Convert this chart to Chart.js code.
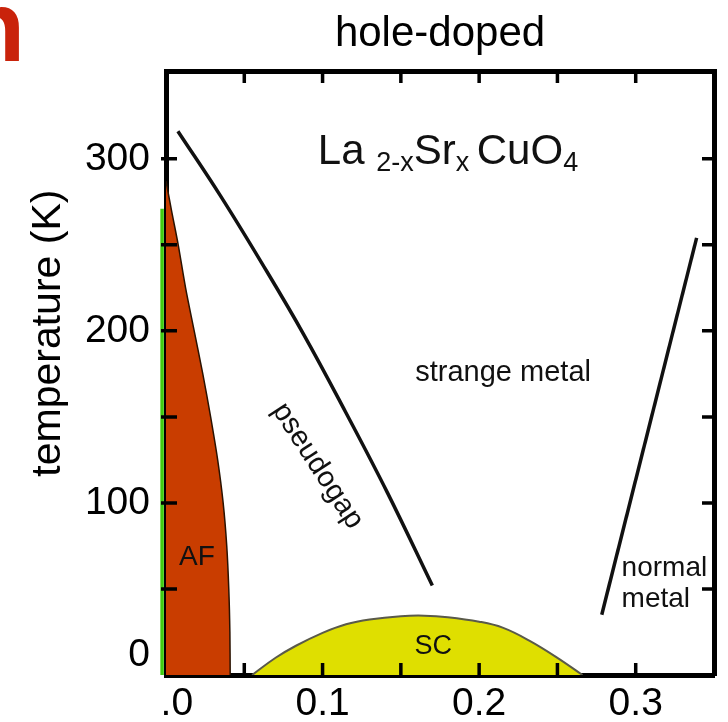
<!DOCTYPE html>
<html>
<head>
<meta charset="utf-8">
<script src="https://cdn.jsdelivr.net/npm/chart.js@4.4.1/dist/chart.umd.min.js"></script>
<style>
  html, body { margin: 0; padding: 0; background: #fff; }
</style>
</head>
<body>
<canvas id="phaseChart" width="728" height="722"></canvas>
<script>
const FONT = "'Liberation Sans', Arial, Helvetica, sans-serif";

// axis ticks
const dopingTicks = [0, 0.05, 0.1, 0.15, 0.2, 0.25, 0.3];
const dopingLabelled = [0, 0.1, 0.2, 0.3];
const dopingLabelText = ['  .0', '0.1', '0.2', '0.3'];
const tempTicks = [0, 50, 100, 150, 200, 250, 300];
const tempLabelled = [0, 100, 200, 300];

// antiferromagnet boundary (x, T)
const afX = [0, 0.0035, 0.0078, 0.0125, 0.018, 0.0235, 0.0285, 0.033, 0.0365, 0.0388, 0.0401, 0.0408, 0.041];
const afT = [287, 270, 250, 225, 200, 175, 150, 125, 100, 75, 50, 25, 0];

// superconducting dome
const scX = [0.055, 0.07, 0.083, 0.10, 0.115, 0.13, 0.15, 0.165, 0.18, 0.20, 0.215, 0.232, 0.25, 0.266];
const scT = [0, 10, 17, 24.5, 29.5, 32.3, 34.2, 34.5, 33.6, 31, 27.5, 20, 10, 0];

// pseudogap crossover line
const pgX = [0.0076, 0.0344, 0.0611, 0.0879, 0.1146, 0.1414, 0.1701];
const pgT = [316, 279, 239.5, 198, 153, 106, 52];

// normal metal crossover
const nmX = [0.2783, 0.3389];
const nmT = [35, 254];

// green marker along the T axis
const greenX = [-0.0025, -0.0025];
const greenT = [0, 271];

const zip = (xs, ys) => xs.map((x, i) => ({ x: x, y: ys[i] }));

const tickMarks = {
  id: 'tickMarks',
  afterDraw(chart) {
    const { ctx, chartArea: a, scales } = chart;
    ctx.save();
    ctx.strokeStyle = '#000';
    ctx.lineWidth = 3.5;
    ctx.beginPath();
    dopingTicks.forEach(v => {
      if (v <= 0) return;
      const px = scales.x.getPixelForValue(v);
      ctx.moveTo(px, a.bottom + 2);
      ctx.lineTo(px, a.bottom - 12);
      ctx.moveTo(px, a.top - 2);
      ctx.lineTo(px, a.top + 12);
    });
    tempTicks.forEach(v => {
      if (v <= 0) return;
      const py = scales.y.getPixelForValue(v);
      ctx.moveTo(a.left - 5, py);
      ctx.lineTo(a.left + 11, py);
      ctx.moveTo(a.right + 2, py);
      ctx.lineTo(a.right - 12, py);
    });
    ctx.stroke();
    ctx.restore();
  }
};

const annotations = {
  id: 'annotations',
  afterDraw(chart) {
    const { ctx, scales } = chart;
    const X = v => scales.x.getPixelForValue(v);
    const Y = v => scales.y.getPixelForValue(v);
    ctx.save();
    ctx.fillStyle = '#111';
    ctx.textBaseline = 'middle';
    ctx.textAlign = 'center';

    ctx.font = '28px ' + FONT;
    ctx.fillText('AF', X(0.0197), Y(68.6));
    ctx.font = '27px ' + FONT;
    ctx.fillText('SC', X(0.1707), Y(16.3));
    ctx.font = '29px ' + FONT;
    ctx.fillText('strange metal', X(0.2153), Y(175.6));

    ctx.textAlign = 'left';
    ctx.font = '28px ' + FONT;
    ctx.fillText('normal', X(0.291), Y(62));
    ctx.fillText('metal', X(0.291), Y(44));

    // pseudogap label along its line
    ctx.save();
    ctx.translate(X(0.0968), Y(121.5));
    ctx.rotate(57 * Math.PI / 180);
    ctx.textAlign = 'center';
    ctx.font = '29px ' + FONT;
    ctx.fillText('pseudogap', 0, 0);
    ctx.restore();

    // compound formula with subscripts
    const parts = [
      ['La ', false], ['2-x', true], ['Sr', false], ['x ', true], ['CuO', false], ['4', true]
    ];
    let cx = X(0.097);
    const base = Y(297);
    ctx.textBaseline = 'alphabetic';
    parts.forEach(([t, sub]) => {
      ctx.font = (sub ? '27px ' : '42px ') + FONT;
      ctx.fillText(t, cx, sub ? base + 7 : base);
      cx += ctx.measureText(t).width;
    });

    // fragment of a red heading cut by the left edge
    ctx.fillStyle = '#c9230b';
    ctx.textAlign = 'right';
    ctx.font = 'bold 100px ' + FONT;
    ctx.fillText('n', 25, 61);
    ctx.restore();
  }
};

const ctx = document.getElementById('phaseChart').getContext('2d');
new Chart(ctx, {
  type: 'scatter',
  data: {
    datasets: [
      {
        label: 'AF',
        data: zip(afX, afT),
        showLine: true,
        fill: 'origin',
        backgroundColor: '#c93d00',
        borderColor: '#2a1200',
        borderWidth: 1.5,
        pointRadius: 0,
        tension: 0.3
      },
      {
        label: 'SC',
        data: zip(scX, scT),
        showLine: true,
        fill: 'origin',
        backgroundColor: '#dfdf00',
        borderColor: '#5a5a4a',
        borderWidth: 2,
        pointRadius: 0,
        tension: 0.4
      },
      {
        label: 'pseudogap',
        data: zip(pgX, pgT),
        showLine: true,
        fill: false,
        borderColor: '#111',
        borderWidth: 3.5,
        pointRadius: 0,
        tension: 0.4
      },
      {
        label: 'normal metal',
        data: zip(nmX, nmT),
        showLine: true,
        fill: false,
        borderColor: '#111',
        borderWidth: 3.5,
        pointRadius: 0
      },
      {
        label: 'green',
        data: zip(greenX, greenT),
        showLine: true,
        fill: false,
        borderColor: '#3fcc10',
        borderWidth: 3.5,
        pointRadius: 0,
        clip: false
      }
    ]
  },
  options: {
    responsive: false,
    animation: false,
    devicePixelRatio: 1,
    layout: { padding: 0 },
    plugins: { legend: { display: false }, tooltip: { enabled: false } },
    scales: {
      x: {
        type: 'linear', position: 'bottom', min: 0, max: 0.35, z: 1,
        grid: { display: false, drawTicks: false },
        border: { display: true, width: 5, color: '#000' },
        ticks: {
          color: '#000', font: { size: 39, family: FONT }, padding: 6,
          autoSkip: false, maxRotation: 0,
          callback: v => {
            const i = dopingLabelled.findIndex(d => Math.abs(d - v) < 1e-9);
            return i < 0 ? '' : dopingLabelText[i];
          }
        },
        afterBuildTicks: s => { s.ticks = dopingTicks.map(v => ({ value: v })); },
        afterFit: s => { s.height = 47; s.paddingLeft = 0; s.paddingRight = 0; }
      },
      x2: {
        type: 'linear', position: 'top', min: 0, max: 0.35, z: 1,
        grid: { display: false, drawTicks: false },
        border: { display: true, width: 5, color: '#000' },
        ticks: { display: false },
        title: {
          display: true, text: 'hole-doped', color: '#000',
          font: { size: 42, family: FONT }, padding: { top: 9, bottom: 0 }
        },
        afterFit: s => { s.height = 71; }
      },
      y: {
        type: 'linear', position: 'left', min: 0, max: 351, z: 1,
        grid: { display: false, drawTicks: false },
        border: { display: true, width: 5, color: '#000' },
        ticks: {
          color: '#000', font: { size: 39, family: FONT, lineHeight: 1 }, padding: 16,
          autoSkip: false,
          // the 0 label sits above its tick in the original
          callback: v => tempLabelled.includes(v) ? (v === 0 ? ['0', ''] : String(v)) : ''
        },
        title: {
          display: true, text: '       temperature (K)', color: '#000',
          font: { size: 41, family: FONT }, padding: { top: 24, bottom: 0 }
        },
        afterBuildTicks: s => { s.ticks = tempTicks.map(v => ({ value: v })); },
        afterFit: s => { s.width = 166; s.paddingTop = 0; s.paddingBottom = 0; }
      },
      y2: {
        type: 'linear', position: 'right', min: 0, max: 351, z: 1,
        grid: { display: false, drawTicks: false },
        border: { display: true, width: 5, color: '#000' },
        ticks: { display: false },
        afterFit: s => { s.width = 14; s.paddingTop = 0; s.paddingBottom = 0; }
      }
    }
  },
  plugins: [tickMarks, annotations]
});
</script>
</body>
</html>
